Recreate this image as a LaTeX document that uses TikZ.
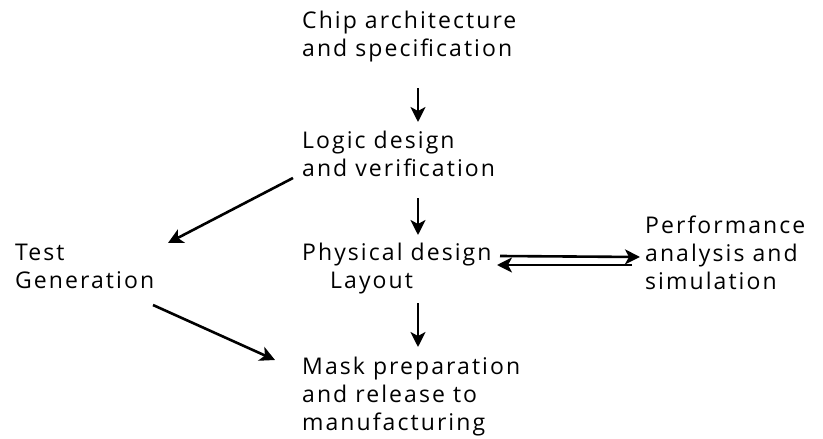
\documentclass[tikz,border=0pt]{standalone}
\usepackage{fontspec}
\setmainfont{Open Sans}[LetterSpace=9]
\usetikzlibrary{arrows.meta,calc}
\begin{document}
\begin{tikzpicture}[x=1pt,y=-1pt,
  lbl/.style={anchor=north west,inner sep=0pt,align=left,font=\fontsize{23}{28}\selectfont},
  arr/.style={line width=2.6pt,-{Stealth[length=15pt,width=15pt,inset=4pt]}}]
\useasboundingbox (0,0) rectangle (823,439);
\node[lbl] (chip) at (302,11) {Chip architecture\\and specification};
\node[lbl] (logic) at (302,131) {Logic design\\and verification};
\node[lbl] (phys) at (302,243) {Physical design\\\hspace*{28pt}Layout};
\node[lbl] (perf) at (645,216) {Performance\\analysis and\\simulation};
\node[lbl] (test) at (15,244) {Test\\Generation};
\node[lbl] (mask) at (302,357) {Mask preparation\\and release to\\manufacturing};
\coordinate (ax) at (418,0);
\draw[arr] ([yshift=-77pt]chip.north -| ax) -- ([yshift=9pt]logic.north -| ax);
\draw[arr] ([yshift=-67pt]logic.north -| ax) -- ([yshift=8pt]phys.north -| ax);
\draw[arr] ([yshift=-60pt]phys.north -| ax) -- ([yshift=10pt]mask.north -| ax);
\draw[arr] ([xshift=-9pt,yshift=-47pt]logic.north west) -- ([xshift=153pt,yshift=1pt]test.north west);
\draw[arr] ([xshift=138pt,yshift=-61pt]test.north west) -- ([xshift=-27pt,yshift=-3pt]mask.north west);
\draw[arr] ([xshift=198pt,yshift=-13pt]phys.north west) -- ([xshift=-5pt,yshift=-41pt]perf.north west);
\draw[arr] ([xshift=-13pt,yshift=-49pt]perf.north west) -- ([xshift=195pt,yshift=-22pt]phys.north west);
\end{tikzpicture}
\end{document}
